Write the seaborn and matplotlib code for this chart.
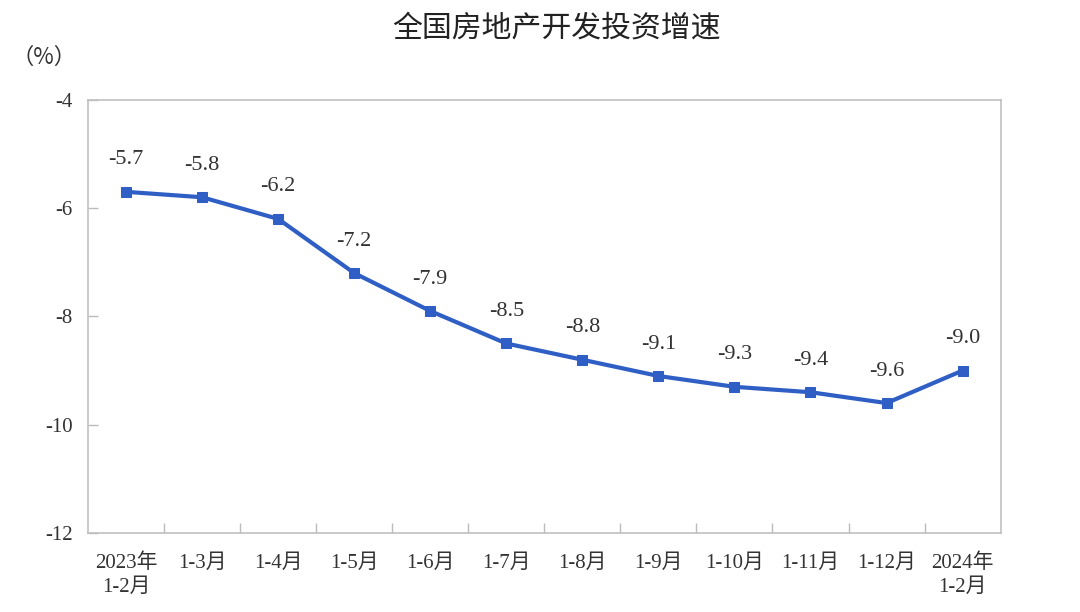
import matplotlib
matplotlib.use("Agg")
import matplotlib.pyplot as plt
import seaborn as sns
import pandas as pd
from matplotlib.ticker import FixedLocator

categories = ["2023年\n1-2月", "1-3月", "1-4月", "1-5月", "1-6月", "1-7月",
              "1-8月", "1-9月", "1-10月", "1-11月", "1-12月", "2024年\n1-2月"]
values = [-5.7, -5.8, -6.2, -7.2, -7.9, -8.5, -8.8, -9.1, -9.3, -9.4, -9.6, -9.0]
yticks = [-4, -6, -8, -10, -12]

sns.set_style("white")
plt.rcParams['font.family'] = ['Liberation Serif', 'Noto Sans CJK SC']

df = pd.DataFrame({"idx": range(len(categories)), "val": values})

fig = plt.figure(figsize=(10.8, 6.12), dpi=100)
ax = fig.add_axes([0.0815, 0.129, 0.845, 0.708])
color = "#2F5FC4"
sns.lineplot(data=df, x="idx", y="val", ax=ax, color=color, linewidth=3,
             marker="s", markersize=7, markeredgecolor=color, markerfacecolor=color)

for i, v in zip(df["idx"], df["val"]):
    ax.annotate(f"{v:.1f}", (i, v), xytext=(0, 23), textcoords="offset points",
                ha="center", va="center", fontsize=16, color="#333333")

ax.set_xlim(-0.5, len(categories) - 0.5)
ax.set_ylim(-12, -4)
ax.set_yticks(yticks)
ax.set_yticklabels([str(t) for t in yticks], fontsize=15, color="#333333")
ax.set_xticks(list(range(len(categories))))
ax.set_xticklabels(categories, fontsize=15, color="#333333", linespacing=1.3)
ax.xaxis.set_minor_locator(FixedLocator([i + 0.5 for i in range(len(categories) - 1)]))
ax.tick_params(axis="x", which="major", length=0, pad=15)
ax.tick_params(axis="x", which="minor", length=7, direction="in", color="#bbbbbb", width=1, bottom=True)
ax.tick_params(axis="y", which="major", length=7, direction="in", color="#bbbbbb", width=1, left=True, pad=11)
for s in ax.spines.values():
    s.set_color("#c0c0c0")
    s.set_linewidth(1.2)
ax.set_xlabel("")
ax.set_ylabel("")

fig.text(0.5155, 0.955, "全国房地产开发投资增速", ha="center", va="center",
         fontsize=21.5, fontweight="medium", family=['Noto Sans CJK SC'], color="#222222")
fig.text(0.041, 0.907, "（%）", ha="center", va="center", fontsize=16,
         family=['Noto Sans CJK SC', 'DejaVu Sans'], color="#333333")

fig.savefig("out.png", dpi=100)
